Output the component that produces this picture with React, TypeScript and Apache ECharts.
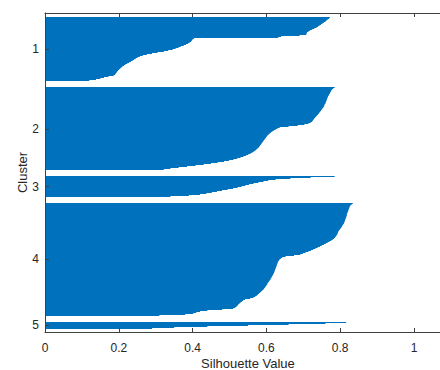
import React, { useEffect, useRef } from 'react';
import * as echarts from 'echarts';

const clusterLabels = ['1', '2', '3', '4', '5'];

const cluster1 = [
  0.772, 0.770, 0.766, 0.763, 0.760, 0.756, 0.752, 0.748, 0.744, 0.740,
  0.736, 0.730, 0.724, 0.718, 0.714, 0.710, 0.709, 0.708, 0.690, 0.640,
  0.632, 0.404, 0.400, 0.398, 0.396, 0.392, 0.388, 0.382, 0.376, 0.368,
  0.362, 0.354, 0.346, 0.334, 0.322, 0.305, 0.290, 0.276, 0.265, 0.257,
  0.251, 0.246, 0.242, 0.238, 0.233, 0.228, 0.223, 0.218, 0.214, 0.210,
  0.207, 0.204, 0.201, 0.198, 0.196, 0.194, 0.192, 0.190, 0.186, 0.172,
  0.160, 0.150, 0.138, 0.120,
];

const cluster2 = [
  0.785, 0.781, 0.778, 0.776, 0.775, 0.773, 0.772, 0.770, 0.769, 0.767,
  0.766, 0.765, 0.764, 0.763, 0.762, 0.761, 0.760, 0.758, 0.757, 0.756,
  0.754, 0.752, 0.750, 0.748, 0.746, 0.744, 0.742, 0.740, 0.737, 0.735,
  0.732, 0.730, 0.728, 0.726, 0.724, 0.720, 0.714, 0.703, 0.685, 0.660,
  0.636, 0.630, 0.625, 0.620, 0.616, 0.612, 0.609, 0.606, 0.603, 0.601,
  0.599, 0.597, 0.595, 0.593, 0.591, 0.589, 0.587, 0.585, 0.583, 0.581,
  0.579, 0.576, 0.573, 0.570, 0.566, 0.562, 0.557, 0.551, 0.545, 0.538,
  0.530, 0.521, 0.511, 0.499, 0.485, 0.468, 0.450, 0.430, 0.408, 0.385,
  0.362, 0.340, 0.322,
];

const cluster3 = [
  0.785, 0.720, 0.665, 0.625, 0.605, 0.592, 0.578, 0.565, 0.553, 0.543,
  0.533, 0.522, 0.510, 0.495, 0.480, 0.466, 0.452, 0.437, 0.420, 0.390,
  0.340,
];

const cluster4 = [
  0.834, 0.831, 0.828, 0.826, 0.825, 0.824, 0.823, 0.822, 0.821, 0.820,
  0.819, 0.818, 0.818, 0.817, 0.816, 0.815, 0.814, 0.813, 0.812, 0.811,
  0.810, 0.808, 0.806, 0.805, 0.803, 0.801, 0.799, 0.797, 0.795, 0.794,
  0.793, 0.792, 0.790, 0.788, 0.786, 0.783, 0.780, 0.776, 0.771, 0.766,
  0.761, 0.756, 0.750, 0.745, 0.739, 0.733, 0.727, 0.721, 0.714, 0.706,
  0.699, 0.692, 0.675, 0.652, 0.643, 0.639, 0.636, 0.634, 0.632, 0.631,
  0.630, 0.629, 0.628, 0.627, 0.626, 0.625, 0.624, 0.623, 0.622, 0.621,
  0.620, 0.618, 0.617, 0.615, 0.614, 0.612, 0.611, 0.609, 0.607, 0.605,
  0.603, 0.602, 0.600, 0.598, 0.596, 0.594, 0.592, 0.589, 0.586, 0.583,
  0.580, 0.577, 0.574, 0.570, 0.565, 0.556, 0.542, 0.537, 0.534, 0.530,
  0.527, 0.524, 0.522, 0.519, 0.516, 0.510, 0.480, 0.440, 0.420, 0.410,
  0.402, 0.380, 0.310,
];

const cluster5 = [0.816, 0.760, 0.660, 0.550, 0.440, 0.350, 0.290];

const clusters = [cluster1, cluster2, cluster3, cluster4, cluster5];

const X_MIN = 0;
const X_MAX = 1.1;
const X_INTERVAL = 0.2;

// layout of the silhouette rows (in row units)
const TOP_PAD = 4.5;
const GAP = 5.8;
const BOTTOM_PAD = 3.4;

const BAR_COLOR = '#0072BD';
const AXIS_COLOR = '#404040';
const TEXT_COLOR = '#262626';
const FONT = '"Liberation Sans", Arial, Helvetica, sans-serif';

export default function App() {
  const ref = useRef<HTMLDivElement>(null);

  useEffect(() => {
    if (!ref.current) return;
    const chart = echarts.init(ref.current, null, { renderer: 'svg' });

    const points: number[][] = [];
    const centers: number[] = [];
    let pos = TOP_PAD;
    clusters.forEach((vals, c) => {
      if (c > 0) pos += GAP;
      centers.push(pos + vals.length / 2);
      vals.forEach((v, i) => points.push([v, pos + i + 0.5]));
      pos += vals.length;
    });
    const yMax = pos + BOTTOM_PAD;

    const labelFor = (val: number) => {
      const idx = centers.findIndex((c) => Math.abs(c - val) < 1e-6);
      return idx >= 0 ? clusterLabels[idx] : '';
    };

    const common = {
      type: 'value' as const,
      min: X_MIN,
      max: X_MAX,
      interval: X_INTERVAL,
      z: 10,
      splitLine: { show: false },
      axisLine: { show: true, onZero: false, lineStyle: { color: AXIS_COLOR, width: 1 } },
      axisTick: { show: true, inside: true, length: 4, lineStyle: { color: AXIS_COLOR } },
    };

    chart.setOption({
      animation: false,
      backgroundColor: '#ffffff',
      textStyle: { fontFamily: FONT },
      grid: {
        left: 45,
        top: 13,
        width: 405.9,
        height: 319,
        containLabel: false,
        outerBoundsMode: 'none',
      },
      xAxis: [
        {
          ...common,
          position: 'bottom',
          axisLabel: {
            show: true,
            color: TEXT_COLOR,
            fontSize: 12,
            fontFamily: FONT,
            margin: 10,
            showMaxLabel: false,
            formatter: (v: number) => String(Math.round(v * 10) / 10),
          },
          name: 'Silhouette Value',
          nameLocation: 'middle',
          nameGap: 25,
          nameMoveOverlap: false,
          nameTextStyle: { color: TEXT_COLOR, fontSize: 13, fontFamily: FONT },
        },
        {
          ...common,
          position: 'top',
          axisLabel: { show: false },
        },
      ],
      yAxis: [
        {
          type: 'value',
          inverse: true,
          min: 0,
          max: yMax,
          z: 10,
          splitLine: { show: false },
          axisLine: { show: true, onZero: false, lineStyle: { color: AXIS_COLOR, width: 1 } },
          axisTick: {
            show: true,
            inside: true,
            length: 4,
            customValues: centers,
            lineStyle: { color: AXIS_COLOR },
          },
          axisLabel: {
            show: true,
            customValues: centers,
            formatter: labelFor,
            color: TEXT_COLOR,
            fontSize: 12,
            fontFamily: FONT,
            margin: 6,
          },
          name: 'Cluster',
          nameLocation: 'middle',
          nameGap: 16,
          nameRotate: 90,
          nameMoveOverlap: false,
          nameTextStyle: { color: TEXT_COLOR, fontSize: 13, fontFamily: FONT },
        },
      ],
      series: [
        {
          type: 'custom',
          xAxisIndex: 0,
          yAxisIndex: 0,
          z: 1,
          encode: { x: 0, y: 1 },
          data: points,
          renderItem: (_params: any, api: any) => {
            const v = api.value(0);
            const y = api.value(1);
            const p0 = api.coord([0, y - 0.5]);
            const p1 = api.coord([v, y + 0.5]);
            // snap row edges to whole pixels so neighbouring rows meet without seams
            const a = Math.round(Math.min(p0[1], p1[1]));
            const b = Math.round(Math.max(p0[1], p1[1]));
            return {
              type: 'rect',
              shape: { x: p0[0], y: a, width: p1[0] - p0[0], height: Math.max(b - a, 0) },
              style: { fill: BAR_COLOR },
            };
          },
        },
      ],
    });

    return () => {
      chart.dispose();
    };
  }, []);

  return (
    <div
      style={{
        position: 'fixed',
        left: 0,
        top: 0,
        width: 440,
        height: 370,
        overflow: 'hidden',
        background: '#ffffff',
      }}
    >
      <div ref={ref} style={{ width: 470, height: 370 }} />
    </div>
  );
}
